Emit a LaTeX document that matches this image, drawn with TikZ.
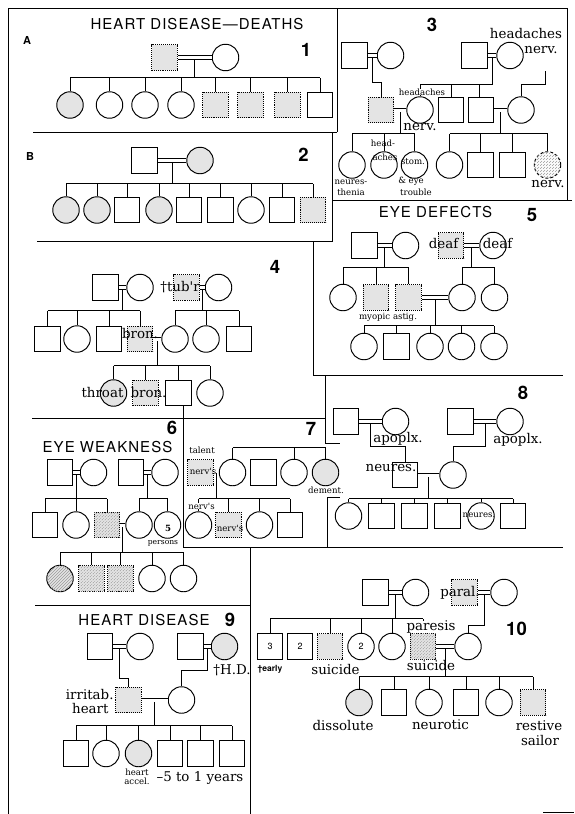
\documentclass[tikz,border=0pt]{standalone}
\usepackage{fontspec}
\usetikzlibrary{patterns,calc}
\newfontfamily\headfont[LetterSpace=7]{TeX Gyre Heros}
\newfontfamily\numfont{TeX Gyre Heros}
\newfontfamily\labfont{DejaVu Serif}
\definecolor{shade}{HTML}{E4E4E4}
\definecolor{hatchgray}{HTML}{9A9A9A}

\begin{document}
\begin{tikzpicture}[x=1pt, y=-1pt, line width=0.95pt,
    male/.style={draw, rectangle, minimum size=25.5pt, inner sep=0pt},
    female/.style={draw, circle, minimum size=26.5pt, inner sep=0pt},
    plain/.style={},
    aff/.style={fill=shade},
    affsq/.style={fill=shade, densely dotted},
    hatched/.style={fill=shade, postaction={pattern=north east lines, pattern color=hatchgray}},
    hatchsq/.style={hatched, densely dotted},
    nervous/.style={densely dashed, postaction={pattern=north east lines, pattern color=hatchgray}},
    wed/.style={double, double distance=3pt, line width=0.85pt},
    frame/.style={line width=1pt},
    title/.style={font=\headfont\fontsize{15}{15}\selectfont},
    num/.style={font=\numfont\bfseries\fontsize{18.5}{19}\selectfont},
    letter/.style={font=\numfont\bfseries\fontsize{11}{12}\selectfont},
    inner/.style={font=\numfont\fontsize{9}{9}\selectfont, inner sep=0pt},
    tag/.style={font=\numfont\bfseries\fontsize{8.5}{9}\selectfont, inner sep=0pt},
    big/.style={font=\labfont\fontsize{13.4}{14}\selectfont, inner sep=0pt},
    small/.style={font=\labfont\fontsize{8.6}{9}\selectfont, inner sep=0pt}]
\useasboundingbox (0,0) rectangle (574,814);

% clipping frames
\draw[frame] (8,814) -- (8,8) -- (567,8) -- (567,200);
\draw[frame] (337,8) -- (337,132);
\draw[frame] (33,132) -- (337,132);
\draw[frame] (332,132) -- (332,241) -- (37,241);
\draw[frame] (332,200) -- (572,200);
\draw[frame] (313,241) -- (313,375) -- (563,375);
\draw[frame] (32,418) -- (325,418);
\draw[frame] (325,375) -- (325,443) -- (340,443);
\draw[frame] (340,497) -- (327,497) -- (327,547);
\draw[frame] (183,406) -- (183,547) -- (563,547);
\draw[frame] (250,547) -- (250,814);
\draw[frame] (35,605) -- (250,605);
\draw[frame] (543,812) -- (574,812);

% 1: heart disease, deaths
\node[title] (t1) at (197,24) {HEART DISEASE—DEATHS};
\node[letter] (la) at (27,40) {A};
\node[num] (n1) at (306,50) {1};
\node[male, affsq] (p1f) at (164.5,57.5) {};
\node[female] (p1m) at (225.5,57.5) {};
\coordinate (p1w) at ($(p1f.east)!0.5!(p1m.west)$);
\coordinate (p1s) at (0,77.5);
\foreach \x/\g/\f [count=\i] in {70/female/aff,109.5/female/plain,145/female/plain,181/female/plain,215.5/male/affsq,250.5/male/affsq,287.5/male/affsq,320/male/plain}
  \node[\g,\f] (p1c\i) at (\x,105) {};
\draw (p1w) -- (p1w |- p1s);
\draw (p1c1.north |- p1s) -- (p1c8.north |- p1s);
\foreach \i in {1,...,8} \draw (p1c\i.north) -- (p1c\i.north |- p1s);
\draw[wed] (p1f) -- (p1m);

% 2
\node[letter] (lb) at (30,156) {B};
\node[num] (n2) at (303.5,155) {2};
\node[male] (p2f) at (144.5,160.5) {};
\node[female, aff] (p2m) at (200,160.5) {};
\coordinate (p2w) at ($(p2f.east)!0.5!(p2m.west)$);
\coordinate (p2s) at (0,183.5);
\foreach \x/\g/\f [count=\i] in {66/female/aff,97/female/aff,127/male/plain,159/female/aff,189/male/plain,220.5/male/plain,251/female/plain,282/male/plain,313/male/affsq}
  \node[\g,\f] (p2c\i) at (\x,210) {};
\draw (p2w) -- (p2w |- p2s);
\draw (p2c1.north |- p2s) -- (p2c9.north |- p2s);
\foreach \i in {1,...,9} \draw (p2c\i.north) -- (p2c\i.north |- p2s);
\draw[wed] (p2f) -- (p2m);

% 3
\node[num] (n3) at (432,25) {3};
\node[big] (l3a) at (526,34) {headaches};
\node[big] (l3b) at (541,50) {nerv.};
\node[male] (p3a) at (354.5,55.5) {};
\node[female] (p3b) at (390.5,55.5) {};
\node[male] (p3c) at (474.5,55.5) {};
\node[female] (p3d) at (510,55.5) {};
\coordinate (p3w1) at ($(p3a.east)!0.5!(p3b.west)$);
\coordinate (p3w2) at ($(p3c.east)!0.5!(p3d.west)$);
\coordinate (p3k) at (0,82.5);
\coordinate (p3s) at (0,84.5);
\coordinate (p3up) at (545.5,71);
\node[male, affsq] (g3a) at (381,110) {};
\node[female] (g3b) at (420,110) {};
\node[male] (g3c) at (451,110) {};
\node[male] (g3d) at (481,110) {};
\node[female] (g3e) at (521,110) {};
\draw (p3w1) -- (p3w1 |- p3k) -| (g3a.north);
\draw[wed] (g3d.north) -- (g3d.north |- p3s);
\draw (p3w2) -- (p3w2 |- p3s) -- (g3b.north |- p3s) -- (g3b.north);
\draw (g3c.north) -- (g3c.north |- p3s);
\draw (p3up) -- (p3up |- p3s) -| (g3e.north);
\coordinate (g3w1) at ($(g3a.east)!0.5!(g3b.west)$);
\coordinate (g3w2) at ($(g3d.east)!0.5!(g3e.west)$);
\coordinate (p3t) at (0,133.5);
\foreach \x [count=\i] in {352,384,414.5}
  \node[female] (h3l\i) at (\x,165) {};
\foreach \x/\g/\f [count=\i] in {449.5/female/plain,480.5/male/plain,512.5/male/plain,547.5/female/nervous}
  \node[\g,\f] (h3r\i) at (\x,165) {};
\draw (g3w1) -- (g3w1 |- p3t);
\draw (h3l1.north |- p3t) -- (h3l3.north |- p3t);
\foreach \i in {1,2,3} \draw (h3l\i.north) -- (h3l\i.north |- p3t);
\draw (g3w2) -- (g3w2 |- p3t);
\draw (h3r1.north |- p3t) -- (h3r4.north |- p3t);
\foreach \i in {1,...,4} \draw (h3r\i.north) -- (h3r\i.north |- p3t);
\draw[wed] (p3a) -- (p3b);
\draw[wed] (p3c) -- (p3d);
\draw[wed] (g3a) -- (g3b);
\draw[wed] (g3d) -- (g3e);
\node[small, fill=white] (l3c) at (422,92) {headaches};
\node[big] (l3d) at (420,127) {nerv.};
\node[small] (l3e) at (383,143) {head-};
\node[small] (l3f) at (385,157) {aches};
\node[small] (l3g) at (413,162) {stom.};
\node[small] (l3h) at (351,182) {neures-};
\node[small] (l3i) at (351,192) {thenia};
\node[small] (l3j) at (411,181) {\& eye};
\node[small] (l3k) at (416,192) {trouble};
\node[big] (l3l) at (548,184) {nerv.};

% 4
\node[num] (n4) at (275,267) {4};
\node[male] (p4a) at (105.5,287.5) {};
\node[female] (p4b) at (140,287.5) {};
\node[male, affsq] (p4c) at (186.5,287.5) {};
\node[female] (p4d) at (218.5,287.5) {};
\coordinate (p4w1) at ($(p4a.east)!0.5!(p4b.west)$);
\coordinate (p4w2) at ($(p4c.east)!0.5!(p4d.west)$);
\coordinate (p4s) at (0,310.5);
\foreach \x/\g/\f [count=\i] in {47.5/male/plain,77/female/plain,109/male/plain,140/male/affsq}
  \node[\g,\f] (q4l\i) at (\x,339) {};
\foreach \x/\g [count=\i] in {175/female,206/female,239/male}
  \node[\g] (q4r\i) at (\x,339) {};
\coordinate (q4w) at ($(q4l4.east)!0.5!(q4r1.west)$);
\coordinate (p4t) at (0,365.5);
\foreach \x/\g/\f [count=\i] in {113.5/female/aff,145.5/male/affsq,178.5/male/plain,210/female/plain}
  \node[\g,\f] (r4c\i) at (\x,393) {};
\draw (p4w1) -- (p4w1 |- p4s);
\draw (q4l1.north |- p4s) -- (q4l4.north |- p4s);
\foreach \i in {1,...,4} \draw (q4l\i.north) -- (q4l\i.north |- p4s);
\draw (p4w2) -- (p4w2 |- p4s);
\draw (q4r1.north |- p4s) -- (q4r3.north |- p4s);
\foreach \i in {1,2,3} \draw (q4r\i.north) -- (q4r\i.north |- p4s);
\draw (q4w) -- (q4w |- p4t);
\draw (r4c1.north |- p4t) -- (r4c4.north |- p4t);
\foreach \i in {1,...,4} \draw (r4c\i.north) -- (r4c\i.north |- p4t);
\draw[wed] (p4a) -- (p4b);
\draw[wed] (p4c) -- (p4d);
\draw[wed] (q4l4) -- (q4r1);
\node[big] (l4a) at (180,287) {†tub'r};
\node[big] (l4b) at (140,333) {bron.};
\node[big] (l4c) at (102.5,392) {throat};
\node[big] (l4d) at (148.5,392) {bron.};

% 5: eye defects
\node[title] (t5) at (435.5,212.5) {EYE DEFECTS};
\node[num] (n5) at (532,215) {5};
\node[male] (p5a) at (364.5,245.5) {};
\node[female] (p5b) at (405.5,245.5) {};
\node[male, affsq] (p5c) at (451,245.5) {};
\node[female] (p5d) at (493,245.5) {};
\coordinate (p5w1) at ($(p5a.east)!0.5!(p5b.west)$);
\coordinate (p5w2) at ($(p5c.east)!0.5!(p5d.west)$);
\coordinate (p5s) at (0,267.5);
\foreach \x/\g/\f [count=\i] in {343/female/plain,376/male/affsq,408.5/male/affsq}
  \node[\g,\f] (q5l\i) at (\x,297.5) {};
\foreach \x [count=\i] in {462,494.5}
  \node[female] (q5r\i) at (\x,297.5) {};
\coordinate (q5w) at ($(q5l3.east)!0.5!(q5r1.west)$);
\coordinate (p5t) at (0,325.5);
\foreach \x/\g [count=\i] in {364/female,396.5/male,430/female,461.5/female,494/female}
  \node[\g] (r5c\i) at (\x,346.5) {};
\draw (p5w1) -- (p5w1 |- p5s);
\draw (q5l1.north |- p5s) -- (q5l3.north |- p5s);
\foreach \i in {1,2,3} \draw (q5l\i.north) -- (q5l\i.north |- p5s);
\draw (p5w2) -- (p5w2 |- p5s);
\draw (q5r1.north |- p5s) -- (q5r2.north |- p5s);
\foreach \i in {1,2} \draw (q5r\i.north) -- (q5r\i.north |- p5s);
\draw (q5w) -- (q5w |- p5t);
\draw (r5c1.north |- p5t) -- (r5c5.north |- p5t);
\foreach \i in {1,...,5} \draw (r5c\i.north) -- (r5c\i.north |- p5t);
\draw[wed] (p5a) -- (p5b);
\draw[wed] (p5c) -- (p5d);
\draw[wed] (q5l3) -- (q5r1);
\node[big] (l5a) at (443.5,244) {deaf};
\node[big] (l5b) at (497.5,244) {deaf};
\node[small] (l5c) at (388,317) {myopic astig.};

% 6: eye weakness
\node[num] (n6) at (172,428) {6};
\node[title] (t6) at (107.5,447) {EYE WEAKNESS};
\node[male] (p6a) at (60,472.5) {};
\node[female] (p6b) at (93.5,472.5) {};
\node[male] (p6c) at (131,472.5) {};
\node[female] (p6d) at (165,472.5) {};
\coordinate (p6w1) at ($(p6a.east)!0.5!(p6b.west)$);
\coordinate (p6w2) at ($(p6c.east)!0.5!(p6d.west)$);
\coordinate (p6s) at (0,498.5);
\foreach \x/\g/\f [count=\i] in {45/male/plain,76/female/plain,107/male/hatchsq}
  \node[\g,\f] (q6l\i) at (\x,525) {};
\foreach \x [count=\i] in {139,167.5}
  \node[female] (q6r\i) at (\x,525) {};
\coordinate (q6w) at ($(q6l3.east)!0.5!(q6r1.west)$);
\coordinate (p6t) at (0,552.5);
\foreach \x/\g/\f [count=\i] in {60/female/hatched,91.5/male/hatchsq,120.5/male/hatchsq,152/female/plain,183.5/female/plain}
  \node[\g,\f] (r6c\i) at (\x,578.5) {};
\draw (p6w1) -- (p6w1 |- p6s);
\draw (q6l1.north |- p6s) -- (q6l3.north |- p6s);
\foreach \i in {1,2,3} \draw (q6l\i.north) -- (q6l\i.north |- p6s);
\draw (p6w2) -- (p6w2 |- p6s);
\draw (q6r1.north |- p6s) -- (q6r2.north |- p6s);
\foreach \i in {1,2} \draw (q6r\i.north) -- (q6r\i.north |- p6s);
\draw (q6w) -- (q6w |- p6t);
\draw (r6c1.north |- p6t) -- (r6c5.north |- p6t);
\foreach \i in {1,...,5} \draw (r6c\i.north) -- (r6c\i.north |- p6t);
\draw[wed] (p6a) -- (p6b);
\draw[wed] (p6c) -- (p6d);
\draw[wed] (q6l3) -- (q6r1);
\node[small, font=\labfont\bfseries\fontsize{8.6}{9}\selectfont] (l6a) at (168,528) {5};
\node[small, font=\labfont\fontsize{7.6}{8}\selectfont] (l6b) at (163,543) {persons};

% 7
\node[num] (n7) at (311,429) {7};
\node[small] (l7a) at (202,450) {talent};
\node[male, affsq] (p7a) at (200.5,472.5) {};
\foreach \x/\g/\f [count=\i] in {232.5/female/plain,263.5/male/plain,294/female/plain,325.5/female/aff}
  \node[\g,\f] (q7c\i) at (\x,472.5) {};
\coordinate (p7s) at (0,447.5);
\coordinate (p7w) at ($(p7a.east)!0.5!(q7c1.west)$);
\coordinate (p7t) at (0,498.5);
\foreach \x/\g/\f [count=\i] in {198.5/female/plain,228.5/male/affsq,259.5/female/plain,290/male/plain}
  \node[\g,\f] (r7c\i) at (\x,525) {};
\draw (q7c1.north |- p7s) -- (q7c4.north |- p7s);
\foreach \i in {1,3,4} \draw (q7c\i.north) -- (q7c\i.north |- p7s);
\draw (p7w) -- (p7w |- p7t);
\draw (r7c1.north |- p7t) -- (r7c4.north |- p7t);
\foreach \i in {1,...,4} \draw (r7c\i.north) -- (r7c\i.north |- p7t);
\node[small] (l7b) at (203,471) {nerv's};
\node[small] (l7c) at (326,490) {dement.};
\node[small, fill=white] (l7d) at (201.5,506) {nerv's};
\node[small] (l7e) at (230,528) {nerv's};

% 8
\node[num] (n8) at (523,393) {8};
\node[male] (p8a) at (346,421.5) {};
\node[female] (p8b) at (395.5,421.5) {};
\node[male] (p8c) at (460.5,421.5) {};
\node[female] (p8d) at (510,421.5) {};
\coordinate (p8w1) at ($(p8a.east)!0.5!(p8b.west)$);
\coordinate (p8w2) at ($(p8c.east)!0.5!(p8d.west)$);
\coordinate (p8k) at (0,446.5);
\node[male] (q8a) at (405,475) {};
\node[female] (q8b) at (453,475) {};
\coordinate (q8w) at ($(q8a.east)!0.5!(q8b.west)$);
\coordinate (p8s) at (0,498.5);
\foreach \x/\g [count=\i] in {348.5/female,381.5/male,414.5/male,447.5/male,481/female,513/male}
  \node[\g] (r8c\i) at (\x,516) {};
\draw (p8w1) -- (p8w1 |- p8k) -| (q8a.north);
\draw (p8w2) -- (p8w2 |- p8k) -| (q8b.north);
\draw (q8w) -- (q8w |- p8s);
\draw (r8c1.north |- p8s) -- (r8c6.north |- p8s);
\foreach \i in {1,...,6} \draw (r8c\i.north) -- (r8c\i.north |- p8s);
\draw[wed] (p8a) -- (p8b);
\draw[wed] (p8c) -- (p8d);
\draw[wed] (q8a) -- (q8b);
\node[big] (l8a) at (398,439) {apoplx.};
\node[big] (l8b) at (518,440) {apoplx.};
\node[big] (l8c) at (391,468) {neures.};
\node[small] (l8d) at (479,515) {neures.};

% 9: heart disease
\node[title] (t9) at (144,620) {HEART DISEASE};
\node[num] (n9) at (230,620) {9};
\node[male] (p9a) at (100,646.5) {};
\node[female] (p9b) at (140,646.5) {};
\node[male] (p9c) at (190.5,646.5) {};
\node[female, aff] (p9d) at (224.5,646.5) {};
\coordinate (p9w1) at ($(p9a.east)!0.5!(p9b.west)$);
\coordinate (p9w2) at ($(p9c.east)!0.5!(p9d.west)$);
\coordinate (p9k1) at (0,678.5);
\coordinate (p9k2) at (0,670.5);
\node[male, affsq] (q9a) at (128.5,700) {};
\node[female] (q9b) at (181.5,700) {};
\coordinate (q9w) at ($(q9a.east)!0.5!(q9b.west)$);
\coordinate (p9s) at (0,725.5);
\foreach \x/\g/\f [count=\i] in {76/male/plain,106/female/plain,138.5/female/aff,170/male/plain,200.5/male/plain,232/male/plain}
  \node[\g,\f] (r9c\i) at (\x,753.5) {};
\draw (p9w1) -- (p9w1 |- p9k1) -| (q9a.north);
\draw (p9w2) -- (p9w2 |- p9k2) -| (q9b.north);
\draw (q9w) -- (q9w |- p9s);
\draw (r9c1.north |- p9s) -- (r9c6.north |- p9s);
\foreach \i in {1,...,6} \draw (r9c\i.north) -- (r9c\i.north |- p9s);
\draw[wed] (p9a) -- (p9b);
\draw[wed] (p9c) -- (p9d);
\draw[wed] (q9a) -- (q9b);
\node[big] (l9a) at (232,670) {†H.D.};
\node[big, anchor=east] (l9b) at (114,694) {irritab.};
\node[big, anchor=east] (l9c) at (109,708) {heart};
\node[small] (l9d) at (137,772) {heart};
\node[small] (l9e) at (137,781) {accel.};
\node[big] (l9f) at (200,778) {–5 to 1 years};

% 10
\node[num] (n10) at (516.5,628.5) {10};
\node[male] (p10a) at (375.5,592.5) {};
\node[female] (p10b) at (415.5,592.5) {};
\node[male, affsq] (p10c) at (464.5,592.5) {};
\node[female] (p10d) at (504,592.5) {};
\coordinate (p10w1) at ($(p10a.east)!0.5!(p10b.west)$);
\coordinate (p10w2) at ($(p10c.east)!0.5!(p10d.west)$);
\coordinate (p10s) at (0,618.5);
\coordinate (p10k) at (0,625.5);
\foreach \x/\g/\f [count=\i] in {270/male/plain,300/male/plain,330/male/affsq,361/female/plain,392/female/plain,423/male/hatchsq}
  \node[\g,\f] (q10c\i) at (\x,646.5) {};
\node[female] (q10g) at (468,646.5) {};
\coordinate (q10w) at ($(q10c6.east)!0.5!(q10g.west)$);
\coordinate (p10t) at (0,676.5);
\foreach \x/\g/\f [count=\i] in {359/female/aff,394/male/plain,429/female/plain,466/male/plain,499/female/plain,533/male/affsq}
  \node[\g,\f] (r10c\i) at (\x,702.5) {};
\draw (p10w1) -- (p10w1 |- p10s);
\draw (q10c1.north |- p10s) -- (q10c6.north |- p10s);
\foreach \i in {1,3,4,5,6} \draw (q10c\i.north) -- (q10c\i.north |- p10s);
\draw (p10w2) -- (p10w2 |- p10k) -| (q10g.north);
\draw (q10w) -- (q10w |- p10t);
\draw (r10c1.north |- p10t) -- (r10c6.north |- p10t);
\foreach \i in {1,...,6} \draw (r10c\i.north) -- (r10c\i.north |- p10t);
\draw[wed] (p10a) -- (p10b);
\draw[wed] (p10c) -- (p10d);
\draw[wed] (q10c6) -- (q10g);
\node[inner] (m10a) at (270,646.5) {3};
\node[inner] (m10b) at (300,646.5) {2};
\node[inner] (m10c) at (361,646.5) {2};
\node[tag] (l10a) at (270,669) {†early};
\node[big] (l10b) at (335.5,669) {suicide};
\node[big, fill=white] (l10c) at (431,627) {paresis};
\node[big] (l10d) at (431,665) {suicide};
\node[big] (l10e) at (460,593) {paral.};
\node[big] (l10f) at (343,725) {dissolute};
\node[big] (l10g) at (440.5,725) {neurotic};
\node[big] (l10h) at (539,726) {restive};
\node[big] (l10i) at (540,740) {sailor};
\end{tikzpicture}
\end{document}
